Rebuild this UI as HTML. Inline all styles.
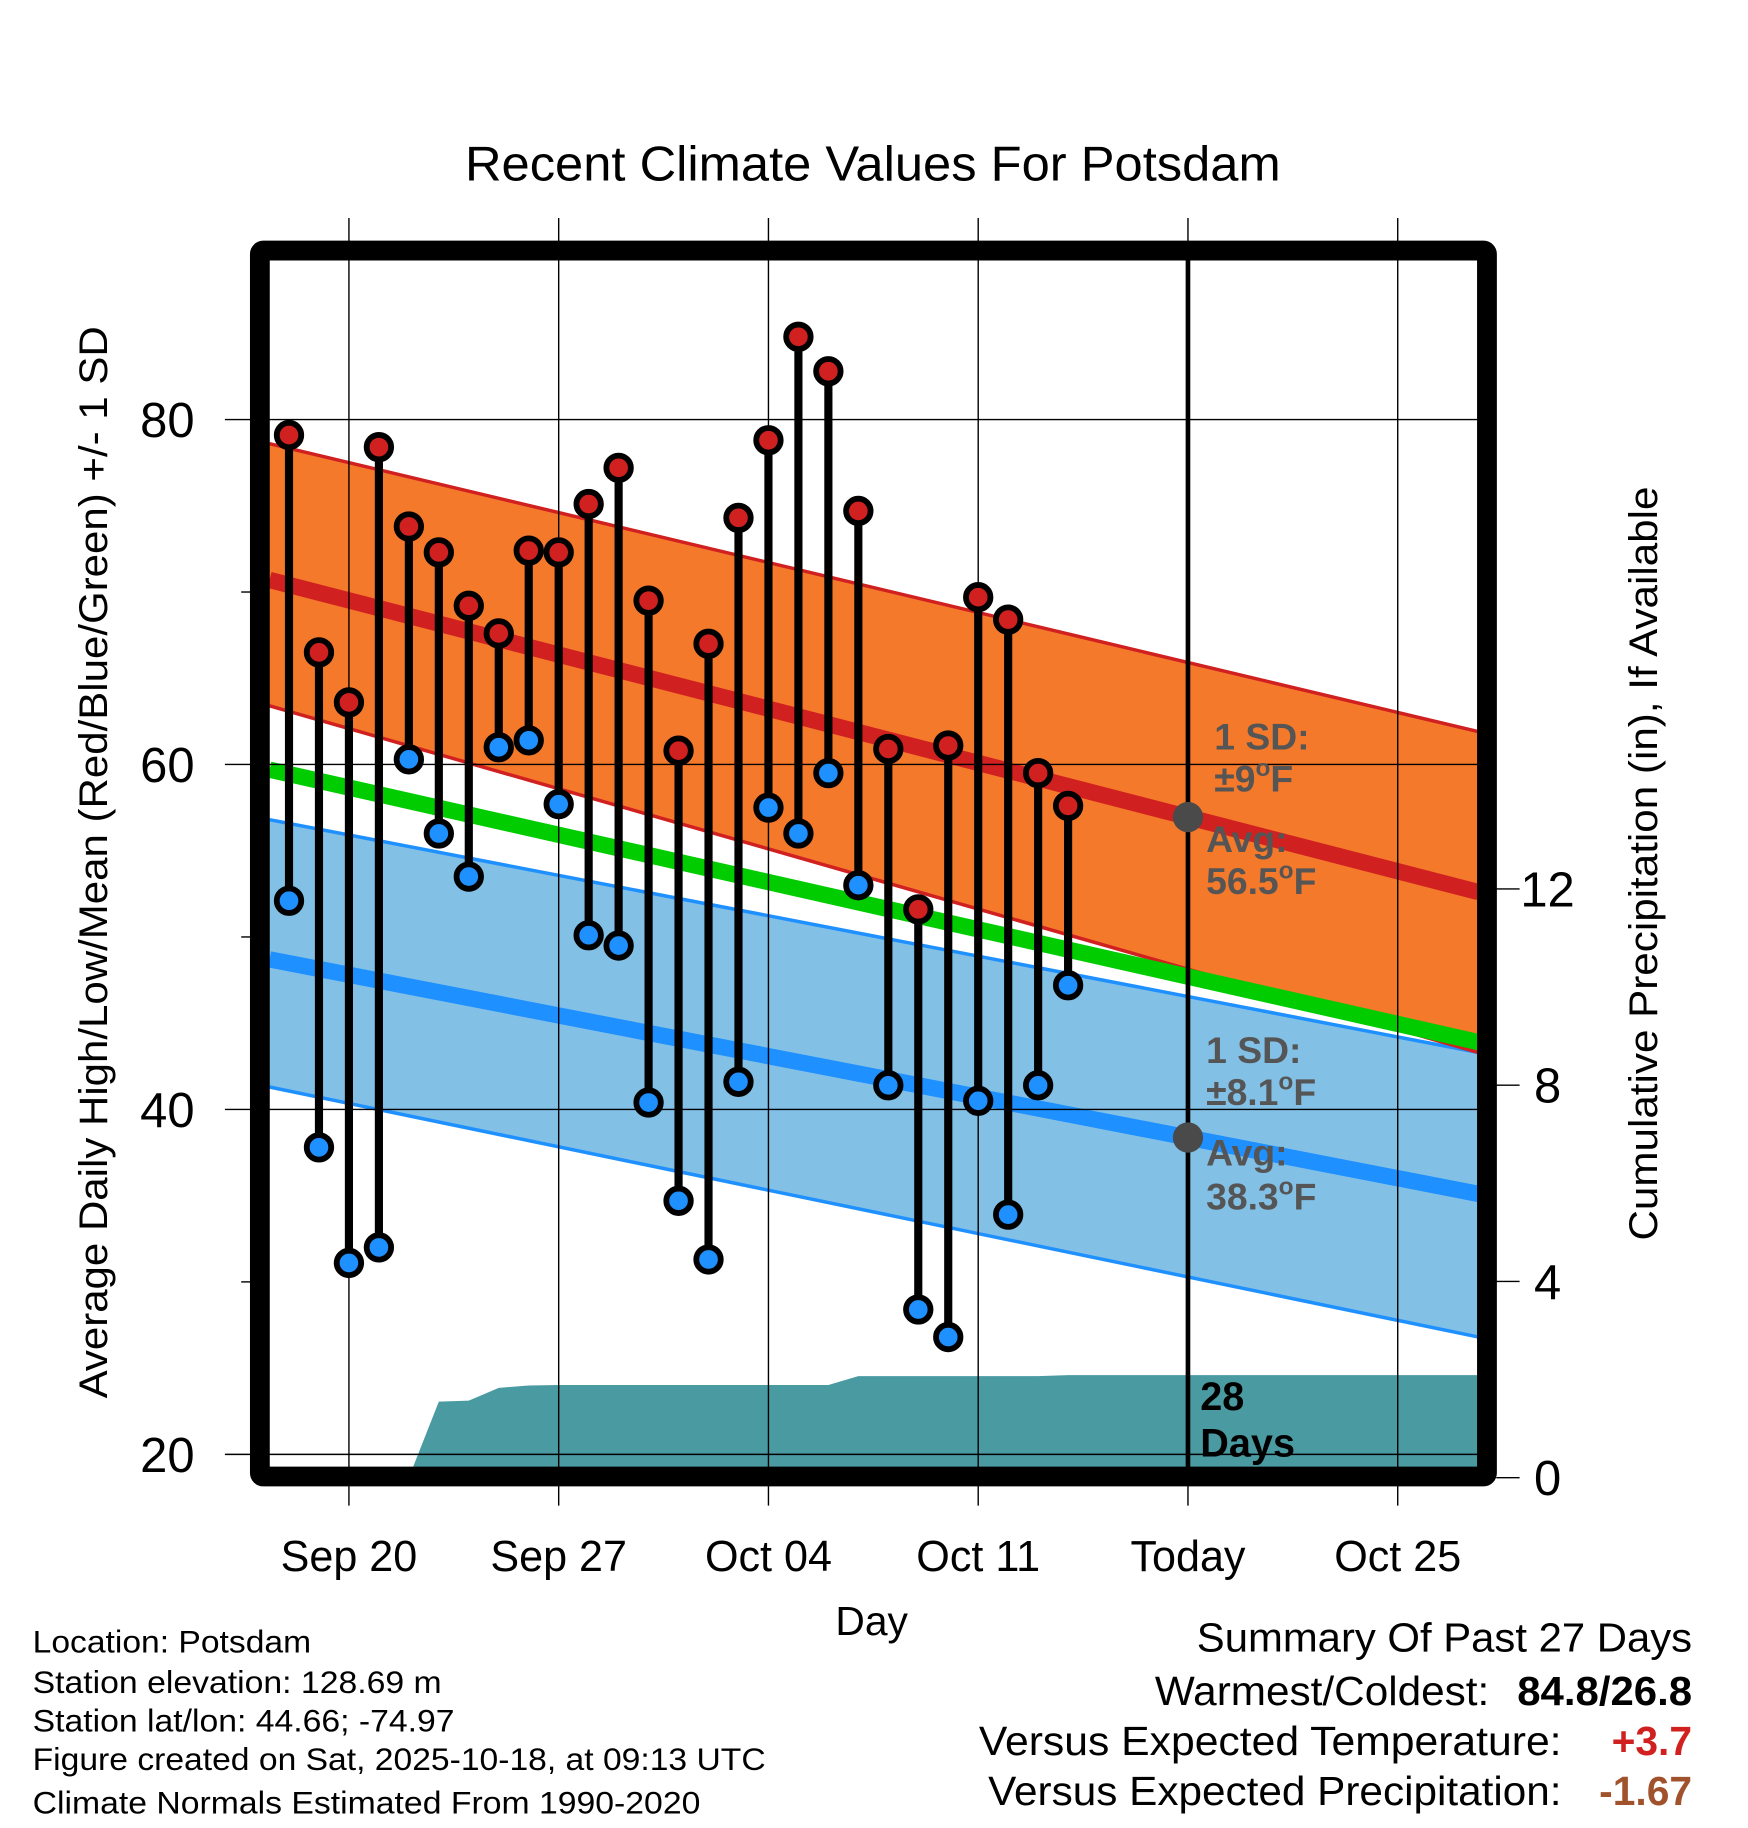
<!DOCTYPE html>
<html><head><meta charset="utf-8"><style>
html,body{margin:0;padding:0;background:#fff}
svg{display:block;font-family:"Liberation Sans",sans-serif}
</style></head><body>
<svg id="chart" width="1748" height="1828" viewBox="0 0 1500 1568.6" xmlns="http://www.w3.org/2000/svg">
<text x="749" y="155" font-size="42" text-anchor="middle" textLength="700" lengthAdjust="spacingAndGlyphs">Recent Climate Values For Potsdam</text>
<g id="bands"></g>
<g id="grid"></g>
<g id="marks"></g>
<g id="frame"></g>
<g id="labels"></g>
<text x="748" y="1403" font-size="35" text-anchor="middle">Day</text>
<text transform="translate(92,740) rotate(-90)" font-size="34" text-anchor="middle" textLength="920" lengthAdjust="spacingAndGlyphs">Average Daily High/Low/Mean (Red/Blue/Green) +/- 1 SD</text>
<text transform="translate(1422,741) rotate(-90)" font-size="34" text-anchor="middle" textLength="647" lengthAdjust="spacingAndGlyphs">Cumulative Precipitation (in), If Available</text>
<g font-size="27">
<text x="28" y="1418" textLength="239" lengthAdjust="spacingAndGlyphs">Location: Potsdam</text>
<text x="28" y="1453" textLength="351" lengthAdjust="spacingAndGlyphs">Station elevation: 128.69 m</text>
<text x="28" y="1486" textLength="362" lengthAdjust="spacingAndGlyphs">Station lat/lon: 44.66; -74.97</text>
<text x="28" y="1519" textLength="629" lengthAdjust="spacingAndGlyphs">Figure created on Sat, 2025-10-18, at 09:13 UTC</text>
<text x="28" y="1556" textLength="573" lengthAdjust="spacingAndGlyphs">Climate Normals Estimated From 1990-2020</text>
</g>
<g font-size="35">
<text x="1452" y="1417" text-anchor="end" textLength="425" lengthAdjust="spacingAndGlyphs">Summary Of Past 27 Days</text>
<text x="1278" y="1463" text-anchor="end" textLength="287" lengthAdjust="spacingAndGlyphs">Warmest/Coldest:</text>
<text x="1452" y="1463" text-anchor="end" font-weight="bold" textLength="150" lengthAdjust="spacingAndGlyphs">84.8/26.8</text>
<text x="1340" y="1506" text-anchor="end" textLength="500" lengthAdjust="spacingAndGlyphs">Versus Expected Temperature:</text>
<text x="1452" y="1506" text-anchor="end" font-weight="bold" fill="#d02020">+3.7</text>
<text x="1340" y="1549" text-anchor="end" textLength="492" lengthAdjust="spacingAndGlyphs">Versus Expected Precipitation:</text>
<text x="1452" y="1549" text-anchor="end" font-weight="bold" fill="#a0522d">-1.67</text>
</g>
</svg>
<script>
// ---- data ----
const dayIndex = [0,1,2,3,4,5,6,7,8,9,10,11,12,13,14,15,16,17,18,19,20,21,22,23,24,25,26]; // Sep18..Oct14
const highs = [79.1,66.5,63.6,78.4,73.8,72.3,69.2,67.6,72.4,72.3,75.1,77.2,69.5,60.8,67.0,74.3,78.8,84.8,82.8,74.7,60.9,51.6,61.1,69.7,68.4,59.5,57.6];
const lows  = [52.1,37.8,31.1,32.0,60.3,56.0,53.5,61.0,61.4,57.7,50.1,49.5,40.4,34.7,31.3,41.6,57.5,56.0,59.5,53.0,41.4,28.4,26.8,40.5,33.9,41.4,47.2];
const precip = [0,0,0,0,0,1.55,1.57,1.83,1.88,1.89,1.89,1.89,1.89,1.89,1.89,1.89,1.89,1.89,1.89,2.07,2.07,2.07,2.07,2.07,2.07,2.07,2.09];
const normDays = [-0.65, 39.7];
const normHighMean = [70.7, 52.6];
const normHighUpper = [78.6, 61.9];
const normHighLower = [63.4, 43.3];
const normMean = [59.7, 43.9];
const normLowMean = [48.7, 35.1];
const normLowUpper = [56.8, 43.3];
const normLowLower = [41.3, 26.8];
const tickDays = [2,9,16,23,30,37];
const tickLabels = ["Sep 20","Sep 27","Oct 04","Oct 11","Today","Oct 25"];
const yTicks = [20,40,60,80];
const yMinor = [30,50,70];
const pTicks = [0,4,8,12];
const todayDay = 30;

// ---- axes ----
const X0=231,X1=1268,Y0=223,Y1=1260;
const xs = d => 248 + d*25.714;
const ys = v => 360 + (80-v)*14.8;
const yp = p => 1268 - p*42.1;
const NS="http://www.w3.org/2000/svg";
function mk(tag,attrs,parent){const e=document.createElementNS(NS,tag);for(const k in attrs)e.setAttribute(k,attrs[k]);parent.appendChild(e);return e;}
const bands=document.getElementById('bands'),grid=document.getElementById('grid'),marks=document.getElementById('marks'),frame=document.getElementById('frame'),labels=document.getElementById('labels');

function bandPts(up,lo){return `${xs(normDays[0])},${ys(up[0])} ${xs(normDays[1])},${ys(up[1])} ${xs(normDays[1])},${ys(lo[1])} ${xs(normDays[0])},${ys(lo[0])}`;}
let e;
e=mk('polygon',{points:bandPts(normLowUpper,normLowLower),fill:'#82c0e6'},bands);


e=mk('polygon',{points:bandPts(normHighUpper,normHighLower),fill:'#f5792b'},bands);


function nline(arr,color,w,name){const l=mk('line',{x1:xs(normDays[0]),y1:ys(arr[0]),x2:xs(normDays[1]),y2:ys(arr[1]),stroke:color,'stroke-width':w},bands);

}
nline(normLowUpper,'#1e90ff',3,'low-sd-upper');
nline(normLowLower,'#1e90ff',3,'low-sd-lower');
nline(normHighUpper,'#d02020',3,'high-sd-upper');
nline(normHighLower,'#d02020',3,'high-sd-lower');
nline(normMean,'#00cc00',14,'normal-mean-line');
nline(normLowMean,'#1e90ff',14,'normal-low-line');
nline(normHighMean,'#d02020',14,'normal-high-line');

// precipitation area
let pts=`${xs(dayIndex[0])},${yp(0)} `;
dayIndex.forEach((d,i)=>{pts+=`${xs(d)},${yp(precip[i])} `;});
pts+=`${X1},${yp(precip[precip.length-1])} ${X1},${yp(0)}`;
e=mk('polygon',{points:pts,fill:'#4a9aa2'},bands);


mk('rect',{x:X0-20,y:Y1,width:X1-X0+40,height:30,fill:'#fff'},bands);

// grid
yTicks.forEach(v=>{const g=mk('line',{x1:193,y1:ys(v),x2:X1,y2:ys(v),stroke:'#000','stroke-width':1.2},grid);


const t=mk('text',{x:167,y:ys(v)+15,'font-size':42,'text-anchor':'end'},labels);t.textContent=v;

});
yMinor.forEach(v=>{mk('line',{x1:207,y1:ys(v),x2:220,y2:ys(v),stroke:'#000','stroke-width':1.2},grid);});
tickDays.forEach((d,i)=>{const g=mk('line',{x1:xs(d),y1:187,x2:xs(d),y2:1292,stroke:'#000','stroke-width':1.2},grid);


const t=mk('text',{x:xs(d),y:1348,'font-size':37,'text-anchor':'middle'},labels);t.textContent=tickLabels[i];

});
e=mk('line',{x1:xs(todayDay),y1:215,x2:xs(todayDay),y2:1266,stroke:'#000','stroke-width':4},marks);


pTicks.forEach(p=>{mk('line',{x1:1284,y1:yp(p),x2:1304,y2:yp(p),stroke:'#000','stroke-width':1.2},grid);
const t=mk('text',{x:1328,y:yp(p)+15,'font-size':42,'text-anchor':'middle'},labels);t.textContent=p;

});

// stems and markers
dayIndex.forEach((d,i)=>{
 const s=mk('line',{x1:xs(d),y1:ys(highs[i]),x2:xs(d),y2:ys(lows[i]),stroke:'#000','stroke-width':7},marks);
 
 
});
dayIndex.forEach((d,i)=>{
 const h=mk('circle',{cx:xs(d),cy:ys(highs[i]),r:10.5,fill:'#d02020',stroke:'#000','stroke-width':5},marks);
 
 
 const l=mk('circle',{cx:xs(d),cy:ys(lows[i]),r:10.5,fill:'#1e90ff',stroke:'#000','stroke-width':5},marks);
 
 
});
const todayHigh = normHighMean[0]+(normHighMean[1]-normHighMean[0])*(todayDay-normDays[0])/(normDays[1]-normDays[0]);
const todayLow = normLowMean[0]+(normLowMean[1]-normLowMean[0])*(todayDay-normDays[0])/(normDays[1]-normDays[0]);
e=mk('circle',{cx:xs(todayDay),cy:ys(todayHigh),r:13,fill:'#4a4a4a'},marks);


e=mk('circle',{cx:xs(todayDay),cy:ys(todayLow),r:13,fill:'#4a4a4a'},marks);



// frame
e=mk('rect',{x:223,y:215,width:1053,height:1052,fill:'none',stroke:'#000','stroke-width':17,rx:3},frame);



// annotations
function ann(x,y,txt,name,color,fs){const t=mk('text',{x:x,y:y,'font-size':fs||32,'font-weight':'bold',fill:color},labels);t.innerHTML=txt;

}
const sup='<tspan dy="-13" font-size="21">o</tspan><tspan dy="13">F</tspan>';
ann(1042,643,'1 SD:','high-sd-label','#555');
ann(1042,679,'±9'+sup,'high-sd-value','#555');
ann(1035,731,'Avg:','high-avg-label','#555');
ann(1035,767,'56.5'+sup,'high-avg-value','#555');
ann(1035,912,'1 SD:','low-sd-label','#555');
ann(1035,948,'±8.1'+sup,'low-sd-value','#555');
ann(1035,1000,'Avg:','low-avg-label','#555');
ann(1035,1038,'38.3'+sup,'low-avg-value','#555');
ann(1030,1210,'28','precip-days-count','#000',34);
ann(1030,1250,'Days','precip-days-label','#000',34);
</script>
</body></html>
